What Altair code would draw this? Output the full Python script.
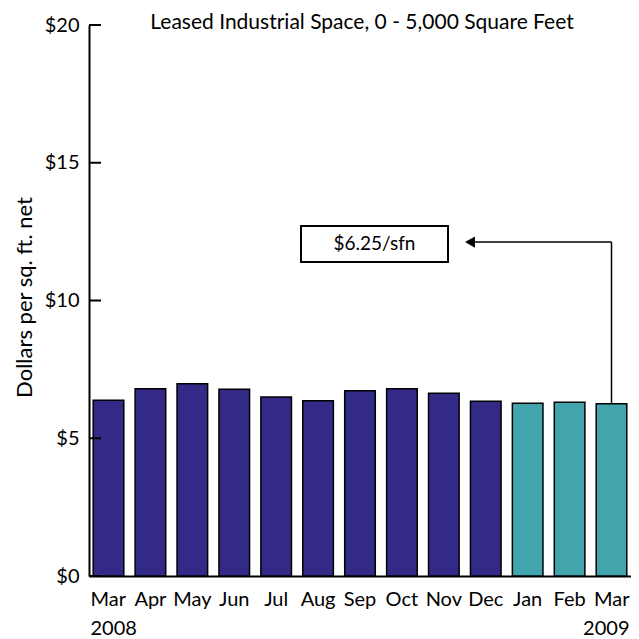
import altair as alt
import pandas as pd

# ---- data ----
months = ["Mar 2008", "Apr", "May", "Jun", "Jul", "Aug", "Sep", "Oct", "Nov", "Dec", "Jan", "Feb", "Mar 2009"]
values = [6.38, 6.80, 6.98, 6.78, 6.50, 6.36, 6.72, 6.80, 6.63, 6.34, 6.27, 6.31, 6.25]
periods = ["2008"] * 10 + ["2009"] * 3
y_ticks = [0, 5, 10, 15, 20]

TITLE = "Leased Industrial Space, 0 - 5,000 Square Feet"
Y_TITLE = "Dollars per sq. ft. net"
ANNOT_TEXT = "$6.25/sfn"
ANNOT_MONTH = "Mar 2009"
ANNOT_VALUE = 6.25
ANNOT_LEVEL = 12.12
BOX_TOP = 12.70
BOX_BOTTOM = 11.40

FONT = "Lato"
FS = 20
PURPLE = "#332A87"
TEAL = "#42A4AC"

bars_df = pd.DataFrame({"month": months, "value": values, "period": periods})
ticks_df = pd.DataFrame({"value": y_ticks})
vline_df = pd.DataFrame({"month": [ANNOT_MONTH], "value": [ANNOT_VALUE], "value2": [ANNOT_LEVEL]})
hline_df = pd.DataFrame({"month": [ANNOT_MONTH], "value": [ANNOT_LEVEL]})
box_df = pd.DataFrame({"value": [BOX_TOP], "value2": [BOX_BOTTOM]})
label_df = pd.DataFrame({"value": [(BOX_TOP + BOX_BOTTOM) / 2], "label": [ANNOT_TEXT]})
title_df = pd.DataFrame({"label": [TITLE]})

yscale = alt.Scale(domain=[0, 20], nice=False, zero=True)
yaxis = alt.Axis(
    values=y_ticks,
    labelExpr="'$' + datum.value",
    ticks=False,
    tickSize=0,
    grid=False,
    domainColor="black",
    domainWidth=2,
    labelFont=FONT,
    labelFontSize=FS,
    labelColor="black",
    labelPadding=10,
    title=Y_TITLE,
    titleFont=FONT,
    titleFontSize=22,
    titleFontWeight="normal",
    titleColor="black",
    titleX=-65,
    titleY=272,
    titleAngle=270,
    titleAlign="center",
    titleBaseline="middle",
)

xscale = alt.Scale(domain=months, paddingInner=0.27, paddingOuter=0.1)
xaxis = alt.Axis(
    title=None,
    labelExpr="split(datum.value, ' ')",
    labelAngle=0,
    ticks=False,
    domainColor="black",
    domainWidth=2,
    labelFont=FONT,
    labelFontSize=FS,
    labelColor="black",
    labelPadding=13,
    labelLineHeight=29,
    labelBaseline="top",
    labelFlush=40,
    labelFlushOffset=18,
)


def Y(field="value"):
    return alt.Y(f"{field}:Q", scale=yscale, axis=yaxis)


bars = alt.Chart(bars_df).mark_bar(stroke="black", strokeWidth=1.5).encode(
    x=alt.X("month:N", sort=months, scale=xscale, axis=xaxis),
    y=Y(),
    color=alt.Color("period:N", scale=alt.Scale(domain=["2008", "2009"], range=[PURPLE, TEAL]), legend=None),
)

ticks = alt.Chart(ticks_df).mark_rule(color="black", strokeWidth=2).encode(
    y=Y(), x=alt.value(0), x2=alt.value(12)
)

vline = alt.Chart(vline_df).mark_rule(color="black", strokeWidth=1.5).encode(
    x=alt.X("month:N", sort=months, scale=xscale, axis=xaxis),
    y=Y(),
    y2="value2:Q",
)

hline = alt.Chart(hline_df).mark_rule(color="black", strokeWidth=1.5).encode(
    x=alt.X("month:N", sort=months, scale=xscale, axis=xaxis),
    x2=alt.value(386),
    y=Y(),
)

head = alt.Chart(hline_df).mark_point(shape="triangle-left", filled=True, color="black", size=130, opacity=1).encode(
    x=alt.value(381), y=Y()
)

box = alt.Chart(box_df).mark_rect(fill="white", stroke="black", strokeWidth=2).encode(
    x=alt.value(212), x2=alt.value(359), y=Y(), y2="value2:Q"
)

box_text = alt.Chart(label_df).mark_text(font=FONT, fontSize=19, color="black", baseline="middle", align="center").encode(
    x=alt.value(285.5), y=Y(), text="label:N"
)

title = alt.Chart(title_df).mark_text(font=FONT, fontSize=21, color="black", baseline="alphabetic", align="center").encode(
    x=alt.value(273), y=alt.value(4), text="label:N"
)

chart = alt.layer(bars, ticks, vline, hline, head, box, box_text, title).properties(
    width=542,
    height=551,
    autosize=alt.AutoSizeParams(type="none"),
    padding={"left": 81, "top": 17, "right": 0, "bottom": 64},
    background="white",
).configure_view(stroke=None)

chart.save("out.html", embed_options={"renderer": "svg", "actions": False})
